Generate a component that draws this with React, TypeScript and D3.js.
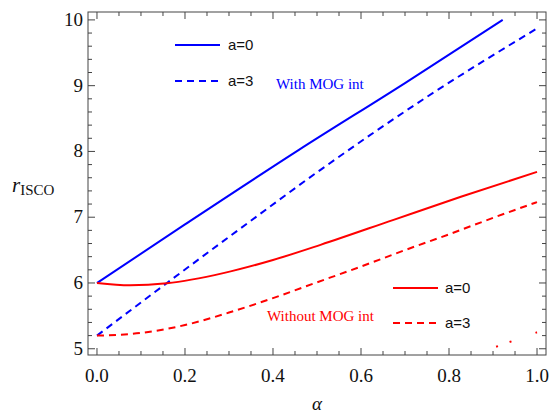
import React from "react";
import * as d3 from "d3";

const xTicks = [0, 0.2, 0.4, 0.6, 0.8, 1.0];
const yTicks = [5, 6, 7, 8, 9, 10];

const blueSolidAlpha = [0, 0.2, 0.458, 0.7, 0.922];
const blueSolidR = [6, 6.89, 8.02, 9.04, 10];

const blueDashAlpha = [0, 0.159, 0.3, 0.508, 0.75, 1.0];
const blueDashR = [5.2, 6.0, 6.7, 7.72, 8.83, 9.87];

const redSolidAlpha = [0, 0.075, 0.159, 0.287, 0.4, 0.508, 0.674, 0.827, 1.0];
const redSolidR = [6, 5.965, 5.995, 6.15, 6.35, 6.58, 6.96, 7.31, 7.69];

const redDashAlpha = [0, 0.1, 0.2, 0.3, 0.4, 0.5, 0.6, 0.7, 0.8, 0.9, 1.0];
const redDashR = [5.2, 5.24, 5.36, 5.55, 5.77, 6.01, 6.25, 6.5, 6.74, 6.99, 7.23];

const fragAlpha = [0.907, 1.0];
const fragR = [5.03, 5.25];

const W = 549, H = 417;
const L = 88, R = 546, T = 12, B = 355;

export default function App() {
  const x = d3.scaleLinear().domain([-0.0204, 1.0204]).range([L, R]);
  const y = d3.scaleLinear().domain([4.905, 10.12]).range([B, T]);
  const line = (a: number[], r: number[]) =>
    d3.line<number>().x((_, i) => x(a[i])).y((_, i) => y(r[i])).curve(d3.curveMonotoneX)(a)!;

  const xMinor = d3.range(0, 1.0001, 0.05);
  const yMinor = d3.range(5, 10.0001, 0.2);
  const frame = "#444";
  return (
    <svg width={W} height={H} style={{ position: "absolute", left: 0, top: 0 }}>
      <defs>
        <clipPath id="clip">
          <rect x={L} y={T} width={R - L} height={B - T} />
        </clipPath>
      </defs>
      <rect x={0} y={0} width={W} height={H} fill="white" />
      <g clipPath="url(#clip)" fill="none" strokeWidth={2}>
        <path d={line(blueSolidAlpha, blueSolidR)} stroke="#0000ff" />
        <path d={line(blueDashAlpha, blueDashR)} stroke="#0000ff" strokeDasharray="7,5" />
        <path d={line(redSolidAlpha, redSolidR)} stroke="#ff0000" />
        <path d={line(redDashAlpha, redDashR)} stroke="#ff0000" strokeDasharray="7,5" />
        <path d={line(fragAlpha, fragR)} stroke="#ff0000" strokeDasharray="2,12.3,2,25.5" />
      </g>
      <rect x={L} y={T} width={R - L} height={B - T} fill="none" stroke={frame} strokeWidth={1} />
      <g stroke={frame} strokeWidth={1}>
        {xMinor.map((v, i) => {
          const major = Math.abs(v * 5 - Math.round(v * 5)) < 1e-6;
          const len = major ? 7 : 4;
          return (
            <g key={"xt" + i}>
              <line x1={x(v)} x2={x(v)} y1={B} y2={B - len} />
              <line x1={x(v)} x2={x(v)} y1={T} y2={T + len} />
            </g>
          );
        })}
        {yMinor.map((v, i) => {
          const major = Math.abs(v - Math.round(v)) < 1e-6;
          const len = major ? 7 : 4;
          return (
            <g key={"yt" + i}>
              <line x1={L} x2={L + len} y1={y(v)} y2={y(v)} />
              <line x1={R} x2={R - len} y1={y(v)} y2={y(v)} />
            </g>
          );
        })}
      </g>
      <g fontFamily="'Liberation Serif', serif" fontSize={19} fill="#111">
        {xTicks.map((v) => (
          <text key={"xl" + v} x={x(v)} y={382} textAnchor="middle">{v.toFixed(1)}</text>
        ))}
        {yTicks.map((v) => (
          <text key={"yl" + v} x={L - 5} y={y(v) + 6} textAnchor="end">{v}</text>
        ))}
        <text x={(L + R) / 2} y={410} textAnchor="middle" fontStyle="italic">α</text>
        <text x={12} y={192}>
          <tspan fontStyle="italic" fontSize={21}>r</tspan>
          <tspan fontSize={15} dy={3}>ISCO</tspan>
        </text>
      </g>
      <g strokeWidth={2} fill="none">
        <line x1={175} x2={220} y1={45} y2={45} stroke="#0000ff" />
        <line x1={175} x2={220} y1={81} y2={81} stroke="#0000ff" strokeDasharray="7,5" />
        <line x1={393} x2={438} y1={288} y2={288} stroke="#ff0000" />
        <line x1={393} x2={438} y1={323} y2={323} stroke="#ff0000" strokeDasharray="7,5" />
      </g>
      <g fontFamily="'Liberation Sans', Arial, sans-serif" fontSize={15} fill="#111">
        <text x={228} y={50}>a=0</text>
        <text x={228} y={86}>a=3</text>
        <text x={445} y={293}>a=0</text>
        <text x={445} y={328}>a=3</text>
      </g>
      <g fontFamily="'Liberation Serif', serif" fontSize={15}>
        <text x={276} y={89} fill="#0000ff">With MOG int</text>
        <text x={267} y={321} fill="#ff0000">Without MOG int</text>
      </g>
    </svg>
  );
}
